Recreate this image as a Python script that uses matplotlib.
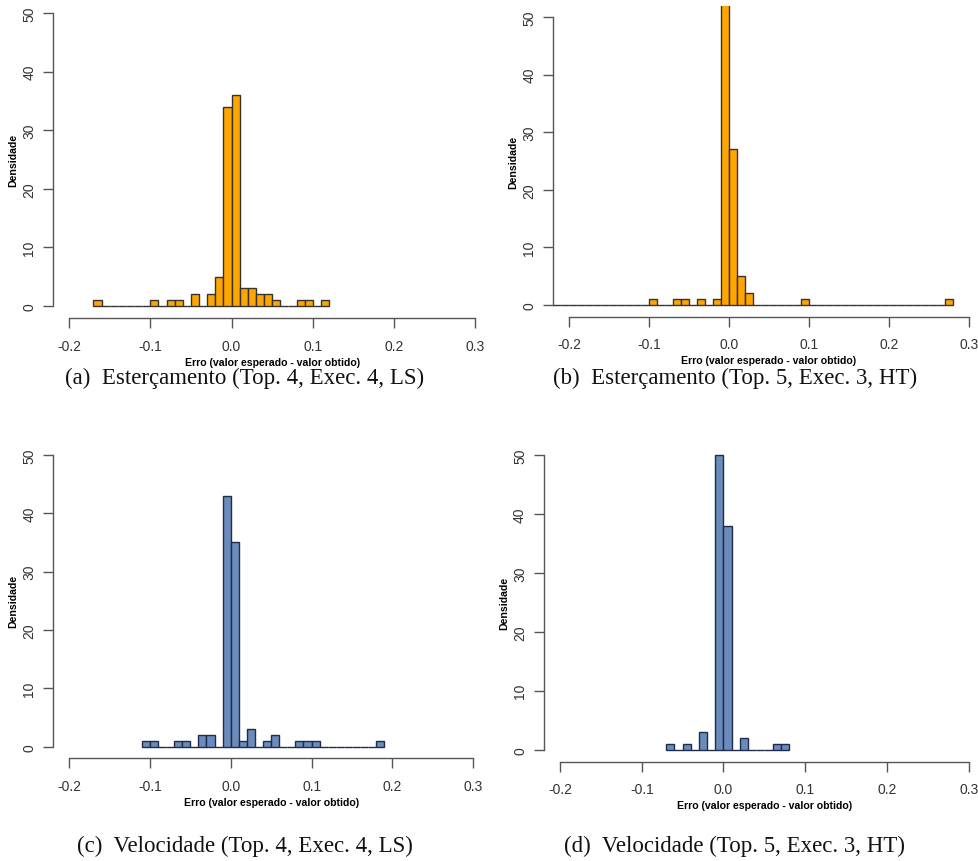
import numpy as np
import matplotlib
matplotlib.use('Agg')
import matplotlib.pyplot as plt

# bin edges start and densities (bin width 0.01)
bin_width = 0.01

a_start = -0.17
a_dens = [1, 0, 0, 0, 0, 0, 0, 1, 0, 1, 1, 0, 2, 0, 2, 5, 34, 36,
          3, 3, 2, 2, 1, 0, 0, 1, 1, 0, 1]

b_start = -0.22
b_dens = [0] * 12 + [1, 0, 0, 1, 1, 0, 1, 0, 1, 59, 27, 5, 2,
                     0, 0, 0, 0, 0, 0, 1] + [0] * 17 + [1]

c_start = -0.11
c_dens = [1, 1, 0, 0, 1, 1, 0, 2, 2, 0, 43, 35, 1, 3, 0, 1, 2,
          0, 0, 1, 1, 1, 0, 0, 0, 0, 0, 0, 0, 1]

d_start = -0.07
d_dens = [1, 0, 1, 0, 3, 0, 50, 38, 0, 2, 0, 0, 0, 1, 1]

captions = ["(a)  Esterçamento (Top. 4, Exec. 4, LS)",
            "(b)  Esterçamento (Top. 5, Exec. 3, HT)",
            "(c)  Velocidade (Top. 4, Exec. 4, LS)",
            "(d)  Velocidade (Top. 5, Exec. 3, HT)"]

xticks = [-0.2, -0.1, 0.0, 0.1, 0.2, 0.3]
xticklabels = ["-0.2", "-0.1", "0.0", "0.1", "0.2", "0.3"]
yticks = [0, 10, 20, 30, 40, 50]

W, H = 979, 862
dpi = 100.0
fig = plt.figure(figsize=(W / dpi, H / dpi), dpi=dpi)

# panel plot regions in pixels: left, right, top, bottom
panels = [
    (a_start, a_dens, '#FFA500', '#333333', (52.8, 491.6, 2.3, 318.7)),
    (b_start, b_dens, '#FFA500', '#333333', (553.0, 985.0, 6.5, 317.5)),
    (c_start, c_dens, '#6A8BBB', '#1F2D4A', (52.8, 489.5, 444.3, 759.4)),
    (d_start, d_dens, '#6A8BBB', '#1F2D4A', (543.7, 985.0, 444.2, 762.5)),
]
caption_pos = [(245, 378), (735, 378), (245, 846), (735, 846)]

axis_col = '#555555'
txt_col = '#333333'

for i, (start, dens, fc, ec, (l, r, t, b)) in enumerate(panels):
    ax = fig.add_axes([l / W, 1 - b / H, (r - l) / W, (b - t) / H])
    edges = start + bin_width * np.arange(len(dens))
    ax.bar(edges, dens, width=bin_width, align='edge', color=fc,
           edgecolor=ec, linewidth=1.0)
    ax.set_xlim(-0.22, 0.32)
    ax.set_ylim(-2, 52)
    ax.patch.set_alpha(0)
    for s in ['top', 'right']:
        ax.spines[s].set_visible(False)
    ax.spines['left'].set_bounds(0, 50)
    ax.spines['bottom'].set_bounds(-0.2, 0.3)
    for s in ['left', 'bottom']:
        ax.spines[s].set_color(axis_col)
        ax.spines[s].set_linewidth(1.0)
    ax.set_xticks(xticks)
    ax.set_xticklabels(xticklabels, fontsize=10, family='Liberation Sans',
                       color=txt_col)
    ax.set_yticks(yticks)
    ax.set_yticklabels([str(v) for v in yticks], fontsize=10,
                       family='Liberation Sans', color=txt_col,
                       rotation=90, va='center')
    ax.tick_params(axis='x', length=7, width=1.0, color=axis_col, pad=8)
    ax.tick_params(axis='y', length=7, width=1.0, color=axis_col, pad=5)
    ax.set_xlabel('Erro (valor esperado - valor obtido)', fontsize=7.6,
                  fontweight='bold', family='Liberation Sans', labelpad=3)
    ax.set_ylabel('Densidade', fontsize=7.6, fontweight='bold',
                  family='Liberation Sans', labelpad=3)
    cx, cy = caption_pos[i]
    fig.text(cx / W, 1 - cy / H, captions[i], ha='center', va='center',
             fontsize=16.5, family='Liberation Serif', color='#111111')

fig.savefig('out.png', dpi=dpi)
